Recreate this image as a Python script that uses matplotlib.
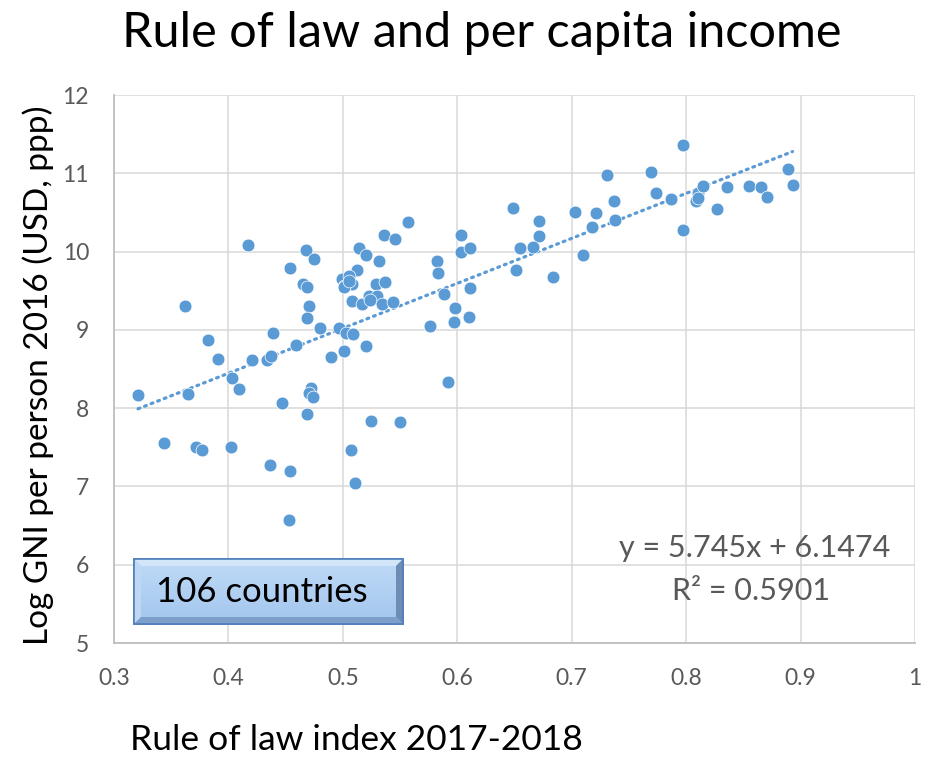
import matplotlib
matplotlib.use("Agg")
import matplotlib.pyplot as plt
import numpy as np
from matplotlib.patches import Polygon, Rectangle
from matplotlib.colors import LinearSegmentedColormap

rule_of_law = [
    0.321, 0.362, 0.417, 0.468, 0.475, 0.454, 0.465, 0.469, 0.470, 0.469,
    0.480, 0.439, 0.382, 0.459, 0.391, 0.421, 0.434, 0.437, 0.490, 0.501,
    0.497, 0.503, 0.403, 0.409, 0.365, 0.472, 0.470, 0.474, 0.447, 0.469,
    0.344, 0.372, 0.377, 0.402, 0.436, 0.454, 0.453,
    0.509, 0.520, 0.557, 0.536, 0.546, 0.514, 0.520, 0.532, 0.512,
    0.499, 0.505, 0.501, 0.508, 0.501, 0.505,
    0.529, 0.537, 0.508, 0.517, 0.523, 0.530, 0.524, 0.534, 0.544,
    0.525, 0.550, 0.507, 0.511,
    0.582, 0.583, 0.588, 0.576, 0.598, 0.597, 0.610, 0.611, 0.603, 0.603, 0.611, 0.592,
    0.649, 0.671, 0.671, 0.655, 0.666, 0.651, 0.684,
    0.703, 0.721, 0.718, 0.710,
    0.731, 0.737, 0.738,
    0.769, 0.774, 0.787, 0.797, 0.797,
    0.810, 0.809, 0.815, 0.810,
    0.827, 0.836, 0.855, 0.865, 0.871, 0.889, 0.893,
]
log_gni = [
    8.17, 9.31, 10.09, 10.02, 9.91, 9.79, 9.59, 9.55, 9.31, 9.15,
    9.02, 8.96, 8.87, 8.81, 8.63, 8.62, 8.62, 8.66, 8.65, 8.73,
    9.02, 8.96, 8.39, 8.24, 8.18, 8.26, 8.19, 8.14, 8.06, 7.92,
    7.55, 7.51, 7.46, 7.50, 7.28, 7.20, 6.57,
    8.95, 8.79, 10.38, 10.21, 10.16, 10.05, 9.96, 9.88, 9.76,
    9.65, 9.69, 9.56, 9.59, 9.55, 9.62,
    9.58, 9.61, 9.37, 9.33, 9.43, 9.43, 9.38, 9.33, 9.35,
    7.84, 7.82, 7.46, 7.04,
    9.88, 9.73, 9.46, 9.05, 9.28, 9.10, 9.17, 9.53, 10.21, 9.99, 10.04, 8.34,
    10.56, 10.39, 10.20, 10.05, 10.06, 9.76, 9.67,
    10.51, 10.49, 10.31, 9.96,
    10.98, 10.65, 10.40,
    11.02, 10.75, 10.67, 11.36, 10.28,
    10.75, 10.65, 10.84, 10.68,
    10.55, 10.82, 10.84, 10.83, 10.70, 11.05, 10.85,
]
slope = 5.745
intercept = 6.1474
r_squared = 0.5901
x_ticks = [0.3, 0.4, 0.5, 0.6, 0.7, 0.8, 0.9, 1.0]
x_tick_labels = ["0.3", "0.4", "0.5", "0.6", "0.7", "0.8", "0.9", "1"]
y_ticks = [5, 6, 7, 8, 9, 10, 11, 12]
y_tick_labels = ["5", "6", "7", "8", "9", "10", "11", "12"]

title = "Rule of law and per capita income"
x_label = "Rule of law index 2017-2018"
y_label = "Log GNI per person 2016 (USD, ppp)"
box_label = "106 countries"

plt.rcParams['font.family'] = ['Lato', 'DejaVu Sans']

W, H = 931, 757
fig = plt.figure(figsize=(W / 100, H / 100), dpi=100)
ax = fig.add_axes([114 / W, 1 - 643 / H, (915 - 114) / W, (643 - 95) / H])

blue = "#5B9BD5"
gray_text = "#595959"

ax.set_xlim(0.3, 1.0)
ax.set_ylim(5, 12)
ax.set_xticks(x_ticks)
ax.set_xticklabels(x_tick_labels, fontsize=16.5, color=gray_text)
ax.set_yticks(y_ticks)
ax.set_yticklabels(y_tick_labels, fontsize=16.5, color=gray_text)
ax.grid(True, color="#d9d9d9", linewidth=1.1, zorder=0)
ax.set_axisbelow(True)
for s in ["top", "right"]:
    ax.spines[s].set_visible(False)
for s in ["left", "bottom"]:
    ax.spines[s].set_color("#bfbfbf")
    ax.spines[s].set_linewidth(1.3)
ax.tick_params(axis="both", length=0)
ax.tick_params(axis="x", pad=18)
ax.tick_params(axis="y", pad=18)

# trend line
xs = np.array([min(rule_of_law), max(rule_of_law)])
ax.plot(xs, slope * xs + intercept, linestyle=(0, (0.6, 1.6)), color=blue,
        linewidth=2.3, dash_capstyle="round", zorder=2)

ax.scatter(rule_of_law, log_gni, s=85, color=blue, edgecolors="white",
           linewidths=0.5, zorder=3)

ax.text(0.978, 6.21, f"y = {slope}x + {intercept}", ha="right", va="center",
        fontsize=22, color=gray_text)
ax.text(0.857, 5.67, f"R² = {r_squared}", ha="center", va="center",
        fontsize=22, color=gray_text)

# overlay in pixel coords for the bevelled box
ov = fig.add_axes([0, 0, 1, 1], facecolor="none")
ov.set_xlim(0, W)
ov.set_ylim(H, 0)
ov.axis("off")
L, T, R, B = 134, 559, 403, 624
bev = 7
ov.add_patch(Rectangle((L, T), R - L, B - T, facecolor="#a9cbf0", edgecolor="#4f7fba",
                       linewidth=1.2, zorder=1))
ov.add_patch(Polygon([(L, T), (R, T), (R - bev, T + bev), (L + bev, T + bev)],
                     closed=True, facecolor="#d2e5f9", edgecolor="none", zorder=2))
ov.add_patch(Polygon([(L, T), (L + bev, T + bev), (L + bev, B - bev), (L, B)],
                     closed=True, facecolor="#bdd7f4", edgecolor="none", zorder=2))
ov.add_patch(Polygon([(L, B), (L + bev, B - bev), (R - bev, B - bev), (R, B)],
                     closed=True, facecolor="#7c9fcb", edgecolor="none", zorder=2))
ov.add_patch(Polygon([(R, T), (R, B), (R - bev, B - bev), (R - bev, T + bev)],
                     closed=True, facecolor="#6e8db5", edgecolor="none", zorder=2))
grad = np.linspace(0, 1, 64).reshape(-1, 1)
cmap = LinearSegmentedColormap.from_list("g", ["#bcd8f6", "#a6c8ee"])
ov.imshow(grad, cmap=cmap, extent=(L + bev, R - bev, B - bev, T + bev), aspect="auto",
          zorder=3, interpolation="bilinear")
ov.add_patch(Rectangle((L, T), R - L, B - T, facecolor="none", edgecolor="#4f7fba",
                       linewidth=1.2, zorder=4))
ov.set_xlim(0, W)
ov.set_ylim(H, 0)
ov.text((L + R) / 2 - 7, 592, box_label, ha="center", va="center",
        fontsize=25, color="black", zorder=5)

fig.text(482 / W, 1 - 33 / H, title, ha="center", va="center", fontsize=35, color="black")
fig.text(130 / W, 1 - 740 / H, x_label, ha="left", va="center", fontsize=25.5, color="black")
fig.text(38 / W, 1 - 375 / H, y_label, ha="center", va="center", rotation=90,
         fontsize=24, color="black")

fig.savefig("out.png", dpi=100)
